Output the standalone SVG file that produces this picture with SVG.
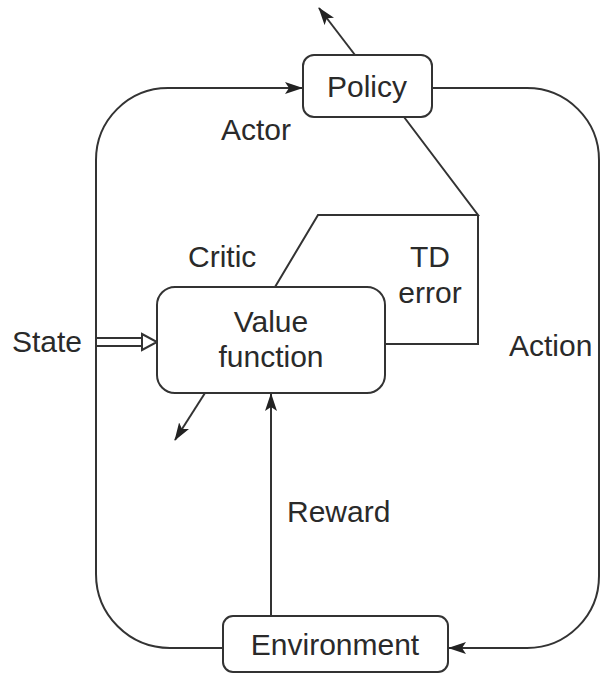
<svg xmlns="http://www.w3.org/2000/svg" width="601" height="674" viewBox="0 0 601 674">
  <style>
    .box { fill: #fff; stroke: #333; stroke-width: 2; }
    .line { fill: none; stroke: #333; stroke-width: 2; }
    .lbl { font-family: "Liberation Sans", Arial, sans-serif; font-size: 30px; fill: #2a2a2a; }
    .mid { text-anchor: middle; }
  </style>
  <defs>
    <marker id="arrow" viewBox="0 0 18 12" refX="17" refY="6" markerWidth="18" markerHeight="12" markerUnits="userSpaceOnUse" orient="auto">
      <path d="M0,0 L18,6 L0,12 L4,6 Z" fill="#222"/>
    </marker>
  </defs>
  <rect width="601" height="674" fill="#fff"/>

  <g id="connectors">
    <!-- outer loop: state path (left) and action path (right) -->
    <path class="line" d="M223,648 H170 A74,74 0 0 1 96,574 V160 A72,72 0 0 1 168,88 H302" marker-end="url(#arrow)"/>
    <path class="line" d="M432,88 H527 A72,72 0 0 1 599,160 V576 A72,72 0 0 1 527,648 H449" marker-end="url(#arrow)"/>
    <!-- policy output -->
    <path class="line" d="M355,55 L319,8" marker-end="url(#arrow)"/>
    <!-- TD error paths -->
    <path class="line" d="M404,117 L478,215 H318 L275,287"/>
    <path class="line" d="M385,344 H478 V215"/>
    <!-- value function output -->
    <path class="line" d="M205,393 L175,440" marker-end="url(#arrow)"/>
    <!-- reward -->
    <path class="line" d="M271,616 V394" marker-end="url(#arrow)"/>
    <!-- state input (hollow double arrow) -->
    <path class="line" d="M96,338 H143 M96,346 H143"/>
    <path d="M142,334 L157,342 L142,350 Z" fill="#fff" stroke="#333" stroke-width="2" stroke-linejoin="miter"/>
  </g>

  <g id="policy">
    <rect class="box" x="303" y="55" width="129" height="62" rx="11"/>
    <text class="lbl mid" x="367" y="97">Policy</text>
  </g>

  <g id="value-function">
    <rect class="box" x="157" y="287" width="228" height="106" rx="18"/>
    <text class="lbl mid" x="271" y="332">Value</text>
    <text class="lbl mid" x="271" y="367">function</text>
  </g>

  <g id="environment">
    <rect class="box" x="223" y="616" width="225" height="56" rx="10"/>
    <text class="lbl mid" x="335" y="655">Environment</text>
  </g>

  <g id="labels">
    <text class="lbl" x="221" y="140">Actor</text>
    <text class="lbl" x="188" y="267">Critic</text>
    <text class="lbl mid" x="430" y="267">TD</text>
    <text class="lbl mid" x="430" y="303">error</text>
    <text class="lbl" x="12" y="352">State</text>
    <text class="lbl" x="509" y="356">Action</text>
    <text class="lbl" x="287" y="522">Reward</text>
  </g>
</svg>
